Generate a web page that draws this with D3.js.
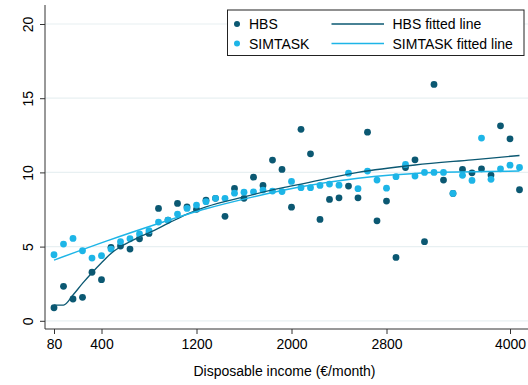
<!DOCTYPE html>
<html>
<head>
<meta charset="utf-8">
<script src="https://cdn.jsdelivr.net/npm/d3@7"></script>
<style>
  html, body { margin: 0; padding: 0; background: #fff; }
  svg { display: block; font-family: "Liberation Sans", Arial, sans-serif; }
</style>
</head>
<body>
<svg id="chart" width="528" height="385"></svg>
<script>
// Income bins (€/month), one per plotted point
const incomes = [0, 80, 160, 240, 320, 400, 480, 560, 640, 720,
  800, 880, 960, 1040, 1120, 1200, 1280, 1360, 1440, 1520,
  1600, 1680, 1760, 1840, 1920, 2000, 2080, 2160, 2240, 2320,
  2400, 2480, 2560, 2640, 2720, 2800, 2880, 2960, 3040, 3120,
  3200, 3280, 3360, 3440, 3520, 3600, 3680, 3760, 3840, 3920];

const hbs = [0.88, 2.32, 1.47, 1.58, 3.27, 2.77, 4.95, 5.04, 4.83, 5.53,
  5.89, 7.57, 6.79, 7.91, 7.68, 7.51, 8.13, 8.25, 7.04, 8.92,
  8.25, 9.68, 9.12, 10.83, 10.2, 7.66, 12.9, 11.25, 6.83, 8.18,
  8.29, 9.08, 8.29, 12.71, 6.74, 8.07, 4.27, 10.33, 10.85, 5.33,
  15.93, 9.48, 8.58, 10.2, 9.97, 10.24, 9.82, 13.14, 12.26, 8.83];

const simtask = [4.45, 5.17, 5.55, 4.72, 4.23, 4.39, 4.83, 5.33, 5.53, 5.85,
  6.07, 6.65, 6.79, 7.19, 7.57, 7.80, 8.03, 8.25, 8.25, 8.6,
  8.67, 8.69, 8.81, 8.74, 8.71, 9.39, 8.97, 8.97, 9.12, 9.21,
  9.14, 9.95, 8.9, 10.09, 9.48, 8.94, 9.71, 10.54, 9.75, 10.0,
  10.0, 10.0, 8.58, 9.8, 9.46, 12.31, 9.53, 10.24, 10.49, 10.33];

// Fitted lines
const hbsFitX = [0, 80, 160, 240, 320, 400, 480, 560, 640, 720, 800, 960, 1120, 1280, 1600, 1920, 2080, 2560, 3040, 3520, 3920];
const hbsFitY = [1.06, 1.06, 1.74, 2.52, 3.24, 3.91, 4.54, 4.99, 5.33, 5.66, 5.93, 6.56, 7.19, 7.68, 8.35, 8.95, 9.21, 10.0, 10.5, 10.85, 11.14];
const simFitX = [0, 440, 880, 1280, 1600, 2080, 2560, 2840, 3200, 3920];
const simFitY = [4.09, 5.37, 6.56, 7.55, 8.2, 9.03, 9.6, 9.82, 10.0, 10.09];

// Axis ticks
const xTickValues = [0, 400, 1200, 2000, 2800, 3840];
const xTickLabels = ["80", "400", "1200", "2000", "2800", "4000"];
const yTickValues = [0, 5, 10, 15, 20];

const seriesNames = ["HBS", "SIMTASK"];
const lineNames = ["HBS fitted line", "SIMTASK fitted line"];

const darkC = "#0b5872";
const lightC = "#1db5e7";

const svg = d3.select("#chart");
const x = d3.scaleLinear().domain([0, 3920]).range([54, 519.5]);
const y = d3.scaleLinear().domain([0, 20]).range([320.8, 24]);

const plotLeft = 45, plotRight = 528, plotTop = 5, plotBottom = 329;

// gridlines
svg.append("g").selectAll("line").data(yTickValues).join("line")
  .attr("x1", plotLeft).attr("x2", plotRight)
  .attr("y1", d => y(d)).attr("y2", d => y(d))
  .attr("stroke", "#e8f0f2").attr("stroke-width", 1.2);

// axes lines
svg.append("line").attr("x1", plotLeft).attr("x2", plotLeft).attr("y1", plotTop).attr("y2", plotBottom)
  .attr("stroke", "#333").attr("stroke-width", 1);
svg.append("line").attr("x1", plotLeft).attr("x2", plotRight).attr("y1", plotBottom).attr("y2", plotBottom)
  .attr("stroke", "#333").attr("stroke-width", 1);

// x axis
const xAxis = d3.axisBottom(x).tickValues(xTickValues)
  .tickFormat((d, i) => xTickLabels[i]).tickSize(5).tickPadding(5);
const gx = svg.append("g").attr("transform", `translate(0,${plotBottom})`).call(xAxis);
gx.select(".domain").remove();
gx.selectAll("line").attr("stroke", "#333");
gx.selectAll("text").attr("font-size", 14).attr("fill", "#000")
  .attr("font-family", "Liberation Sans, Arial, sans-serif");

// y axis
const yAxis = d3.axisLeft(y).tickValues(yTickValues).tickSize(5).tickPadding(0).tickFormat(d3.format("d"));
const gy = svg.append("g").attr("transform", `translate(${plotLeft},0)`).call(yAxis);
gy.select(".domain").remove();
gy.selectAll("line").attr("stroke", "#333");
gy.selectAll("text")
  .attr("font-size", 14).attr("fill", "#000")
  .attr("font-family", "Liberation Sans, Arial, sans-serif")
  .attr("text-anchor", "middle").attr("dy", 0)
  .attr("x", 0).attr("y", 0)
  .attr("transform", "translate(-12,0) rotate(-90) translate(0,0)")
  .attr("dominant-baseline", "auto");
// adjust positions of rotated labels: baseline at x=-12 relative to axis
gy.selectAll(".tick text").attr("transform", "translate(-12,0) rotate(-90)");

// x title
svg.append("text").attr("x", 284.5).attr("y", 376)
  .attr("text-anchor", "middle").attr("font-size", 14).attr("fill", "#000")
  .text("Disposable income (€/month)");

// scatter points
const r = 3.4;
svg.append("g").selectAll("circle").data(incomes).join("circle")
  .attr("cx", d => x(d)).attr("cy", (d, i) => y(hbs[i])).attr("r", r).attr("fill", darkC);
svg.append("g").selectAll("circle").data(incomes).join("circle")
  .attr("cx", d => x(d)).attr("cy", (d, i) => y(simtask[i])).attr("r", r).attr("fill", lightC);

// fitted lines
const line = d3.line().x(d => x(d[0])).y(d => y(d[1])).curve(d3.curveMonotoneX);
svg.append("path").datum(hbsFitX.map((v, i) => [v, hbsFitY[i]]))
  .attr("d", line).attr("fill", "none").attr("stroke", darkC).attr("stroke-width", 1.3);
svg.append("path").datum(simFitX.map((v, i) => [v, simFitY[i]]))
  .attr("d", line).attr("fill", "none").attr("stroke", lightC).attr("stroke-width", 1.5);

// legend
const lg = svg.append("g");
lg.append("rect").attr("x", 227.5).attr("y", 10).attr("width", 296.5).attr("height", 45.5)
  .attr("fill", "#fff").attr("stroke", "#222").attr("stroke-width", 1);
const rowsY = [24, 43.5];
const cols = [darkC, lightC];
rowsY.forEach((ry, i) => {
  lg.append("circle").attr("cx", 237).attr("cy", ry).attr("r", 3).attr("fill", cols[i]);
  lg.append("text").attr("x", 249).attr("y", ry + 5.2).attr("font-size", 14).attr("fill", "#000").text(seriesNames[i]);
  lg.append("line").attr("x1", 331.5).attr("x2", 384).attr("y1", ry).attr("y2", ry)
    .attr("stroke", cols[i]).attr("stroke-width", i === 0 ? 1.3 : 1.5);
  lg.append("text").attr("x", 392.5).attr("y", ry + 5.2).attr("font-size", 14).attr("fill", "#000").text(lineNames[i]);
});
</script>
</body>
</html>
